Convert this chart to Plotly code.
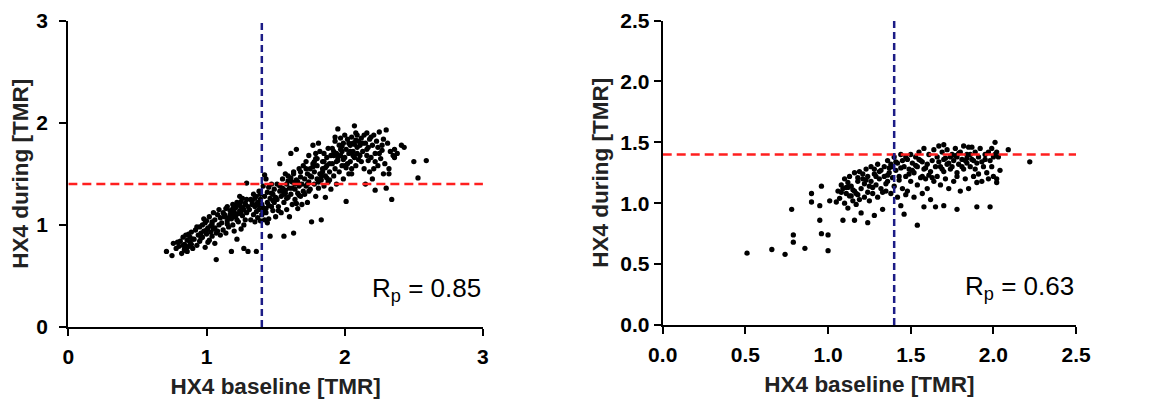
import plotly.graph_objects as go

# ---------------- data ----------------
threshold = 1.4

x_left = [
    0.71,0.75,0.76,0.78,0.80,0.81,0.82,0.83,0.84,0.84,0.85,0.86,0.86,0.87,0.88,0.88,0.89,0.90,0.90,0.83,0.85,0.87,0.79,0.89,0.86,
    0.91,0.92,0.93,0.94,0.95,0.95,0.96,0.97,0.97,0.98,0.99,1.00,1.00,1.01,1.02,1.02,1.03,1.04,1.04,1.05,1.05,1.06,1.06,1.07,1.08,1.08,1.09,1.09,1.10,1.10,0.93,0.96,0.99,1.03,1.07,0.98,1.01,1.04,1.06,1.00,
    1.11,1.12,1.12,1.13,1.14,1.14,1.15,1.15,1.16,1.17,1.17,1.18,1.18,1.19,1.19,1.20,1.20,1.21,1.21,1.22,1.22,1.23,1.23,1.24,1.24,1.25,1.25,1.26,1.26,1.27,1.27,1.28,1.28,1.29,1.29,1.30,1.30,1.13,1.16,1.19,1.22,1.25,1.28,1.18,1.21,1.24,1.27,1.15,1.20,1.26,
    1.31,1.32,1.32,1.33,1.34,1.34,1.35,1.35,1.36,1.36,1.37,1.37,1.38,1.38,1.39,1.39,1.40,1.40,1.41,1.41,1.42,1.42,1.43,1.43,1.44,1.44,1.45,1.45,1.46,1.46,1.47,1.47,1.48,1.48,1.49,1.49,1.50,1.50,1.33,1.36,1.39,1.42,1.45,1.48,1.35,1.38,1.41,1.44,1.47,1.36,1.29,1.43,
    1.51,1.51,1.52,1.53,1.53,1.54,1.54,1.55,1.55,1.56,1.56,1.57,1.57,1.58,1.58,1.59,1.59,1.60,1.60,1.61,1.61,1.62,1.62,1.63,1.63,1.64,1.64,1.65,1.65,1.66,1.66,1.67,1.67,1.68,1.68,1.69,1.69,1.70,1.70,1.53,1.56,1.59,1.62,1.65,1.68,1.55,1.58,1.61,1.64,1.67,1.52,1.57,1.63,1.66,
    1.71,1.71,1.72,1.72,1.73,1.73,1.74,1.74,1.75,1.75,1.76,1.76,1.77,1.77,1.78,1.78,1.79,1.79,1.80,1.80,1.81,1.81,1.82,1.82,1.83,1.83,1.84,1.84,1.85,1.85,1.86,1.86,1.87,1.87,1.88,1.88,1.89,1.89,1.90,1.90,1.72,1.75,1.78,1.81,1.84,1.87,1.74,1.77,1.80,1.83,1.86,1.89,1.73,1.79,1.85,
    1.91,1.91,1.92,1.92,1.93,1.93,1.94,1.94,1.95,1.95,1.96,1.96,1.97,1.97,1.98,1.98,1.99,1.99,2.00,2.00,2.01,2.01,2.02,2.02,2.03,2.03,2.04,2.04,2.05,2.05,2.06,2.06,2.07,2.07,2.08,2.08,2.09,2.09,2.10,2.10,1.92,1.95,1.98,2.01,2.04,2.07,1.94,1.97,2.00,2.03,2.06,2.09,1.93,1.99,2.05,2.08,
    2.11,2.12,2.12,2.13,2.14,2.14,2.15,2.16,2.16,2.17,2.18,2.18,2.19,2.20,2.20,2.21,2.22,2.22,2.23,2.24,2.24,2.25,2.26,2.27,2.28,2.29,2.30,2.13,2.16,2.19,2.22,2.25,2.28,2.15,2.21,2.27,2.11,2.17,
    2.30,2.31,2.32,2.33,2.34,2.35,2.36,2.38,2.41,2.43,2.50,2.53,2.59,2.32,2.36,
]
y_left = [
    0.74,0.70,0.82,0.77,0.79,0.84,0.72,0.88,0.76,0.81,0.90,0.74,0.85,0.79,0.88,0.83,0.93,0.77,0.86,0.80,0.75,0.91,0.83,0.81,0.78,
    0.86,0.95,0.80,0.90,0.98,0.84,0.92,1.00,0.88,0.94,0.78,1.04,0.91,0.97,0.85,1.08,0.93,1.01,0.89,1.12,0.96,1.05,0.82,0.66,1.10,0.94,1.15,1.00,1.07,0.90,0.98,0.87,1.02,0.99,0.92,1.06,0.83,1.03,0.97,0.95,
    1.02,0.95,1.12,1.08,0.92,1.16,1.04,1.18,0.98,1.10,1.14,0.74,1.06,1.20,1.00,1.13,0.94,1.17,1.08,1.22,0.86,1.11,1.03,1.19,1.14,0.96,1.23,1.09,1.26,1.15,0.77,1.21,1.05,1.25,1.12,1.18,0.74,1.10,1.07,1.16,1.05,1.13,1.20,1.12,1.19,1.28,1.00,1.01,1.09,1.17,
    1.15,1.25,1.05,1.20,1.30,1.10,1.18,1.03,1.28,0.74,1.22,1.07,1.33,1.15,1.25,1.04,1.20,1.10,1.38,1.17,1.49,1.28,1.45,1.12,1.32,1.22,1.06,1.37,1.26,0.89,1.18,1.40,1.30,1.14,1.22,1.35,1.08,1.27,1.23,1.13,1.30,1.05,1.19,1.24,1.26,1.19,1.13,1.02,1.31,1.20,1.41,1.16,
    1.25,1.40,1.18,1.33,1.60,1.28,1.12,1.45,1.36,0.89,1.22,1.50,1.31,1.40,1.15,1.27,1.48,1.36,1.08,1.70,1.30,1.42,1.20,0.92,1.52,1.35,1.25,1.74,1.44,1.31,1.16,1.55,1.38,1.28,1.47,1.40,1.20,1.58,1.33,1.38,1.30,1.43,1.36,1.21,1.52,1.33,1.26,1.46,1.40,1.29,1.14,1.34,1.50,1.42,
    1.45,1.30,1.62,1.38,1.50,1.22,1.68,1.42,1.55,1.35,1.03,1.47,1.78,1.60,1.40,1.52,1.28,1.65,1.45,1.58,1.80,1.36,1.50,1.72,1.05,1.44,1.62,1.55,1.38,1.70,1.48,1.27,1.66,1.58,1.42,1.75,1.52,1.60,1.35,1.68,1.55,1.48,1.62,1.42,1.52,1.46,1.33,1.57,1.65,1.48,1.56,1.44,1.40,1.70,1.62,
    1.60,1.75,1.48,1.68,1.82,1.55,1.70,1.40,1.63,1.94,1.78,1.52,1.68,1.85,1.58,1.72,1.45,1.80,1.66,1.88,1.23,1.74,1.60,1.84,1.50,1.70,1.78,1.62,1.86,1.55,1.72,1.80,1.97,1.66,1.83,1.58,1.76,1.88,1.64,1.82,1.72,1.66,1.77,1.56,1.72,1.79,1.62,1.74,1.58,1.80,1.68,1.70,1.86,1.64,1.50,1.90,
    1.78,1.85,1.62,1.72,1.88,1.55,1.80,1.68,1.90,1.76,1.52,1.84,1.66,1.78,1.45,1.88,1.34,1.70,1.82,1.58,1.76,1.91,1.65,1.73,1.84,1.60,1.93,1.80,1.74,1.86,1.62,1.70,1.50,1.40,1.55,1.78,1.68,1.63,
    1.36,1.80,1.55,1.72,1.25,1.68,1.74,1.70,1.78,1.76,1.62,1.46,1.63,1.50,1.66,
]

x_right = [
    0.51,0.66,0.74,0.78,0.79,0.79,0.86,0.90,0.90,0.95,0.95,0.96,0.96,1.00,1.00,1.01,1.05,1.09,1.16,1.24,1.54,1.58,1.65,1.70,1.78,1.90,1.98,2.22,2.09,2.01,2.04,2.02,
    1.06,1.07,1.08,1.09,1.10,1.10,1.11,1.12,1.12,1.13,1.14,1.14,1.15,1.16,1.16,1.17,1.18,1.18,1.19,1.20,1.20,1.21,1.22,1.22,1.23,1.24,1.24,1.25,1.25,1.08,1.12,1.15,1.19,1.23,1.11,1.17,1.21,1.13,1.18,
    1.26,1.26,1.27,1.28,1.28,1.29,1.30,1.30,1.31,1.32,1.32,1.33,1.34,1.34,1.35,1.36,1.36,1.37,1.38,1.38,1.39,1.40,1.40,1.41,1.42,1.42,1.43,1.44,1.44,1.45,1.45,1.27,1.31,1.35,1.39,1.43,1.29,1.33,1.37,1.41,1.28,1.36,1.44,1.46,1.47,
    1.46,1.47,1.48,1.48,1.49,1.50,1.50,1.51,1.52,1.52,1.53,1.54,1.54,1.55,1.56,1.56,1.57,1.58,1.58,1.59,1.60,1.60,1.61,1.62,1.62,1.63,1.64,1.64,1.65,1.49,1.53,1.57,1.61,1.51,1.55,1.59,1.63,1.47,1.57,
    1.66,1.66,1.67,1.68,1.68,1.69,1.70,1.70,1.71,1.72,1.72,1.73,1.74,1.74,1.75,1.76,1.76,1.77,1.78,1.78,1.79,1.80,1.80,1.81,1.82,1.82,1.83,1.84,1.84,1.85,1.85,1.67,1.71,1.75,1.79,1.83,1.69,1.73,1.77,1.81,1.70,1.78,1.84,
    1.86,1.86,1.87,1.88,1.88,1.89,1.90,1.90,1.91,1.92,1.93,1.94,1.95,1.96,1.97,1.98,1.99,2.00,2.00,2.01,2.02,2.03,1.87,1.89,1.93,1.97,2.02,1.91,1.95,1.99,
]
y_right = [
    0.59,0.62,0.58,0.95,0.74,0.68,0.63,1.08,1.01,0.98,0.86,1.14,0.75,0.74,0.61,1.02,1.01,0.86,0.86,0.84,0.82,0.97,0.97,0.98,0.95,0.97,0.97,1.34,1.44,1.50,1.27,1.17,
    1.10,1.04,1.15,1.12,1.00,1.20,1.08,1.13,0.96,1.22,1.06,1.14,1.02,1.25,1.10,0.99,1.18,1.07,1.26,1.12,0.92,1.20,1.05,1.16,1.28,1.09,1.22,1.02,1.14,1.09,1.17,1.11,1.03,1.19,1.13,1.08,1.24,1.06,1.21,
    1.18,1.30,1.08,1.24,0.90,1.15,1.32,1.05,1.20,1.27,1.12,0.95,1.22,1.30,1.10,1.35,1.18,1.25,1.08,1.32,1.21,1.14,1.38,1.27,1.05,1.33,1.22,0.98,1.29,1.12,1.35,1.13,1.26,1.16,1.30,1.19,1.22,1.09,1.29,1.34,1.28,1.23,1.40,0.91,1.07,
    1.30,1.22,1.36,1.10,1.28,1.40,1.18,1.33,1.05,1.25,1.38,1.15,1.30,1.42,1.21,1.35,1.08,1.28,1.45,1.20,1.32,1.12,1.40,1.26,1.03,1.35,1.18,1.44,1.30,1.24,1.31,1.34,1.23,1.27,1.36,1.29,1.21,1.38,1.22,
    1.38,1.22,1.47,1.30,1.15,1.42,1.26,1.36,1.20,1.44,1.32,1.12,1.38,1.28,1.40,1.18,1.35,1.45,1.25,1.38,1.32,1.42,1.10,1.36,1.28,1.47,1.20,1.40,1.33,1.12,1.46,1.34,1.37,1.30,1.41,1.35,1.28,1.33,1.39,1.30,1.48,1.22,1.37,
    1.40,1.30,1.46,1.35,1.22,1.42,1.33,1.17,1.38,1.45,1.18,1.30,1.40,1.25,1.42,1.35,1.45,1.38,1.22,1.40,1.20,1.38,1.36,1.28,1.34,1.20,1.42,1.24,1.36,1.30,
]

left_range = [0, 3]
right_range = [0, 2.5]
left_ticks = [0, 1, 2, 3]
right_ticks = [0.0, 0.5, 1.0, 1.5, 2.0, 2.5]
x_title = "HX4 baseline [TMR]"
y_title = "HX4 during [TMR]"
r_left = "R<sub>p</sub> = 0.85"
r_right = "R<sub>p</sub> = 0.63"

# ---------------- figure ----------------
FONT = "Liberation Sans, Arial, sans-serif"
RED = "#ff1f1f"
BLUE = "#1c1c86"

fig = go.Figure()

def add_panel(xs, ys, rng, xa, ya):
    fig.add_trace(go.Scatter(x=xs, y=ys, mode="markers", xaxis=xa, yaxis=ya,
                             marker=dict(color="black", size=5.3, symbol="circle"),
                             showlegend=False, hoverinfo="skip"))
    fig.add_trace(go.Scatter(x=rng, y=[threshold, threshold], mode="lines", xaxis=xa, yaxis=ya,
                             line=dict(color=RED, width=2.5, dash="9px,5px"),
                             showlegend=False, hoverinfo="skip"))
    fig.add_trace(go.Scatter(x=[threshold, threshold], y=rng, mode="lines", xaxis=xa, yaxis=ya,
                             line=dict(color=BLUE, width=2.5, dash="7px,4px"),
                             showlegend=False, hoverinfo="skip"))

add_panel(x_left, y_left, left_range, "x", "y")
add_panel(x_right, y_right, right_range, "x2", "y2")

axis_common = dict(
    showline=True, linecolor="black", linewidth=2.2, mirror=False,
    ticks="outside", ticklen=7, tickwidth=2.2, tickcolor="black",
    showgrid=False, zeroline=False, automargin=False,
    tickfont=dict(family=FONT, size=21, color="black", weight="bold"),
    title_font=dict(family=FONT, size=22.5, color="#222", weight="bold"),
)

# the page body adds an 8px offset, so the figure is 1145x392
fig.update_layout(
    width=1145, height=392,
    margin=dict(l=0, r=0, t=0, b=0, autoexpand=False),
    paper_bgcolor="white", plot_bgcolor="white",
    xaxis=dict(domain=[0.0527, 0.4148], range=left_range, tickvals=left_ticks,
               ticklabelstandoff=3,
               title=dict(text=x_title, standoff=11), anchor="y", **axis_common),
    yaxis=dict(domain=[0.1862, 0.9676], range=left_range, tickvals=left_ticks,
               ticklabelstandoff=7,
               title=dict(text=y_title, standoff=4), anchor="x", **axis_common),
    xaxis2=dict(domain=[0.5718, 0.9328], range=right_range, tickvals=right_ticks, tickformat=".1f",
                ticklabelstandoff=3,
                title=dict(text=x_title, standoff=11), anchor="y2", **axis_common),
    yaxis2=dict(domain=[0.1913, 0.968], range=right_range, tickvals=right_ticks, tickformat=".1f",
                title=dict(text=y_title, standoff=5), anchor="x2", **axis_common),
    annotations=[
        dict(text=r_left, xref="x", yref="y", x=3.0, y=0.37, xanchor="right", yanchor="middle",
             showarrow=False, font=dict(family=FONT, size=26, color="black")),
        dict(text=r_right, xref="x2", yref="y2", x=2.5, y=0.31, xanchor="right", yanchor="middle",
             showarrow=False, font=dict(family=FONT, size=26, color="black")),
    ],
)

fig.write_html("out.html")
